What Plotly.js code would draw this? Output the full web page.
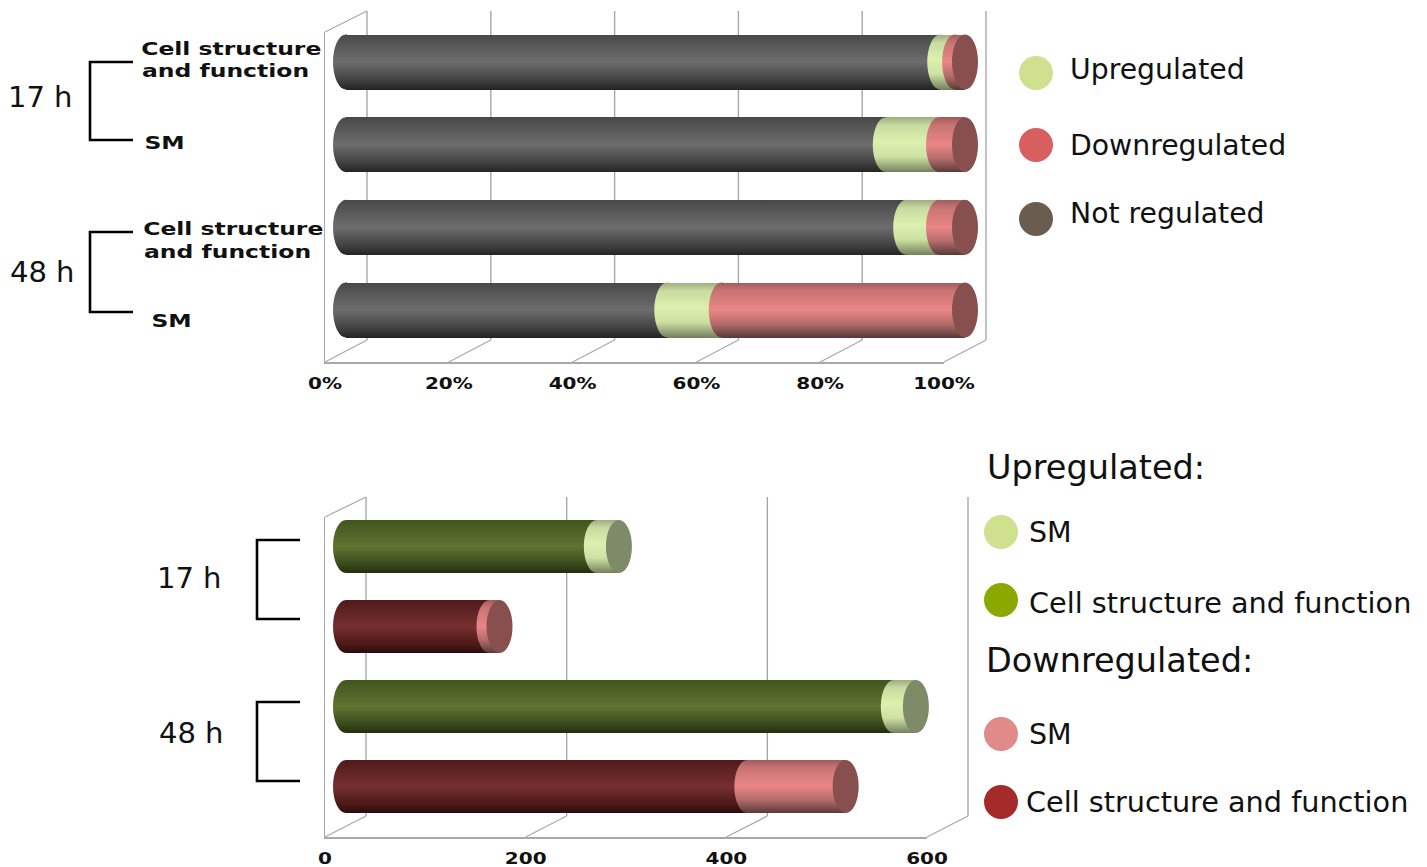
<!DOCTYPE html>
<html>
<head>
<meta charset="utf-8">
<title>Regulated proteins by functional class</title>
<script src="https://cdn.plot.ly/plotly-3.0.1.min.js"></script>
<style>html,body{margin:0;padding:0;background:#fff}</style>
</head>
<body>
<div id="chart" style="width:1427px;height:867px"></div>
<script>
// ---- Data ----
const rowNames = ["17 h Cell structure and function", "17 h SM", "48 h Cell structure and function", "48 h SM"];

// Share of proteins in each class (%)
const notRegulatedPct = [96.0, 87.2, 90.5, 51.9];
const upregulatedPct = [2.4, 8.6, 5.3, 8.8];
const downregulatedPct = [1.6, 4.2, 4.2, 39.3];
const pctTicks = [0, 20, 40, 60, 80, 100];
const pctTickLabels = ["0%", "20%", "40%", "60%", "80%", "100%"];

// Protein counts
const upCellCounts = [250, null, 546, null];
const upSmCounts = [22, null, 22, null];
const downCellCounts = [null, 143, null, 400];
const downSmCounts = [null, 10, null, 98];
const countTicks = [0, 200, 400, 600];
const countTickLabels = ["0", "200", "400", "600"];

// ---- Page geometry helpers ----
const W = 1427, H = 867;
const fx = p => p / W;
const fy = p => 1 - p / H;
const domX = (a, b) => [fx(a), fx(b)];
const domY = (top, bottom) => [fy(bottom), fy(top)];
const axisId = (a, i) => a + (i === 1 ? "" : i);
const axisKey = (a, i) => a + "axis" + (i === 1 ? "" : i);

// Cylinder shading: vertical colour ramps
const ramps = {
  grey: [[0, "#474747"], [.1, "#505050"], [.5, "#6d6d6d"], [.85, "#3e3e3e"], [1, "#242424"]],
  paleGreen: [[0, "#9dac80"], [.15, "#c8dba0"], [.45, "#dcf1ae"], [.72, "#cde1a2"], [1, "#75805e"]],
  salmon: [[0, "#a05c5c"], [.15, "#c97474"], [.5, "#ea8686"], [.75, "#b56c6c"], [1, "#5a3a3a"]],
  olive: [[0, "#41541f"], [.5, "#5f7431"], [.85, "#37481a"], [1, "#212f0e"]],
  maroon: [[0, "#4f1b1b"], [.5, "#762f2f"], [.85, "#4a1717"], [1, "#2b0c0c"]]
};
const midColour = k => ramps[k][Math.floor(ramps[k].length / 2)][1];

const traces = [];
const shapes = [];
const shapePaint = {};
const wallColour = "#a8a8a8";

// One stacked-cylinder chart: back wall grid, bars, front floor edge
function buildChart(cfg) {
  const pxPer = (cfg.backRight - cfg.backLeft) / cfg.max;
  const xr = axisId("x", cfg.barAxis), yr = axisId("y", cfg.barAxis);
  const capRadius = 13 / pxPer;
  const halfBar = cfg.barH / cfg.pitch / 2;
  // the walls sit half the chart depth behind and in front of the bars
  const backShift = (cfg.backLeft - cfg.barZero) / pxPer;
  const frontShift = (cfg.frontLeft - cfg.barZero) / pxPer;

  const wall = (x0, x1, y0, y1, width) => shapes.push({
    type: "line", xref: xr, yref: "paper", layer: "below",
    x0, x1, y0: fy(y0), y1: fy(y1),
    line: {color: wallColour, width}
  });

  cfg.ticks.forEach(t => {
    // back wall gridline
    wall(t + backShift, t + backShift, cfg.backTop, cfg.backBottom, 1.4);
    // floor diagonal joining the front edge to the back wall
    wall(t + frontShift, t + backShift, cfg.frontBottom, cfg.backBottom, 1.2);
  });
  // top diagonal of the side wall
  wall(frontShift, backShift, cfg.frontTop, cfg.backTop, 1.2);

  cfg.series.forEach(s => {
    traces.push({
      type: "bar", orientation: "h", name: s.name, meta: s.ramp,
      x: s.values, y: rowNames, xaxis: xr, yaxis: yr,
      width: cfg.barH / cfg.pitch,
      marker: {color: midColour(s.ramp), line: {width: 0}},
      hoverinfo: "x+name"
    });
  });

  // an unseen trace keeps the front-edge axes in the figure
  traces.push({
    type: "scatter", mode: "markers", x: cfg.ticks, y: cfg.ticks.map(() => 0),
    xaxis: axisId("x", cfg.barAxis + 1), yaxis: axisId("y", cfg.barAxis + 1),
    marker: {opacity: 0}, hoverinfo: "skip", showlegend: false
  });

  rowNames.forEach((_, i) => {
    let running = 0, last = null;
    cfg.series.forEach(s => {
      const v = s.values[i];
      if (v === null) return;
      shapePaint[shapes.length] = s.ramp;
      shapes.push({
        type: "circle", xref: xr, yref: yr, layer: "above",
        x0: running - capRadius, x1: running + capRadius,
        y0: i - halfBar, y1: i + halfBar,
        fillcolor: midColour(s.ramp), line: {width: 0}
      });
      running += v;
      last = s;
    });
    // flat end cap of the cylinder
    shapes.push({
      type: "circle", xref: xr, yref: yr, layer: "above",
      x0: running - capRadius, x1: running + capRadius,
      y0: i - halfBar, y1: i + halfBar,
      fillcolor: last.cap, line: {width: 0}
    });
  });
}

const upSeriesCap = "#7f8a68", downSeriesCap = "#874f4d";

const topChart = {
  barAxis: 1, max: 100, ticks: pctTicks,
  backLeft: 367, backRight: 986, frontLeft: 325, frontRight: 944, barZero: 346,
  backTop: 11, backBottom: 340, frontTop: 32, frontBottom: 362,
  firstRow: 62, pitch: 82.67, barH: 55,
  series: [
    {name: "Not regulated", values: notRegulatedPct, ramp: "grey", cap: downSeriesCap},
    {name: "Upregulated", values: upregulatedPct, ramp: "paleGreen", cap: downSeriesCap},
    {name: "Downregulated", values: downregulatedPct, ramp: "salmon", cap: downSeriesCap}
  ]
};
const bottomChart = {
  barAxis: 3, max: 600, ticks: countTicks,
  backLeft: 366, backRight: 968, frontLeft: 325, frontRight: 927, barZero: 346,
  backTop: 497, backBottom: 816, frontTop: 517, frontBottom: 837,
  firstRow: 546.5, pitch: 80, barH: 53,
  series: [
    {name: "Upregulated: Cell structure and function", values: upCellCounts, ramp: "olive", cap: upSeriesCap},
    {name: "Upregulated: SM", values: upSmCounts, ramp: "paleGreen", cap: upSeriesCap},
    {name: "Downregulated: Cell structure and function", values: downCellCounts, ramp: "maroon", cap: downSeriesCap},
    {name: "Downregulated: SM", values: downSmCounts, ramp: "salmon", cap: downSeriesCap}
  ]
};
buildChart(topChart);
buildChart(bottomChart);

function axesFor(c, ticks, labels) {
  const n = c.barAxis;
  const pxPer = (c.backRight - c.backLeft) / c.max;
  const hidden = {visible: true, showgrid: false, zeroline: false, showticklabels: false, ticks: "", showline: false, fixedrange: true};
  const out = {};
  // bars, on a wider span so the rounded ends and walls are not clipped
  const left = c.frontLeft - 20, right = c.backRight + 20;
  out[axisKey("x", n)] = {...hidden, domain: domX(left, right), anchor: axisId("y", n),
    range: [(left - c.barZero) / pxPer, (right - c.barZero) / pxPer]};
  const top = c.backTop - 10, bottom = c.frontBottom + 10;
  out[axisKey("y", n)] = {...hidden, type: "category", categoryorder: "array", categoryarray: rowNames,
    domain: domY(top, bottom), anchor: axisId("x", n),
    range: [(bottom - c.firstRow) / c.pitch, (top - c.firstRow) / c.pitch]};
  // front edge with the value labels and the side wall line
  out[axisKey("x", n + 1)] = {...hidden, domain: domX(c.frontLeft, c.frontRight), range: [0, c.max], anchor: axisId("y", n + 1),
    showline: true, linecolor: wallColour, linewidth: 1.5,
    tickmode: "array", tickvals: ticks, ticktext: labels, showticklabels: true, ticklabelstandoff: 7,
    tickfont: {family: "DejaVu Sans", size: 15.5, color: "#111", weight: 700}};
  out[axisKey("y", n + 1)] = {...hidden, domain: domY(c.frontTop, c.frontBottom), range: [0, 1], anchor: axisId("x", n + 1),
    showline: true, linecolor: wallColour, linewidth: 1.5};
  return out;
}

// ---- Text ----
const annotations = [];
function label(text, x, y, size, opts) {
  const o = opts || {};
  annotations.push({
    text, xref: "paper", yref: "paper", x: fx(x), y: fy(y), showarrow: false,
    xanchor: o.anchor || "left", yanchor: "middle", borderpad: 0, borderwidth: 0,
    font: {family: "DejaVu Sans", size, color: "#111", weight: o.bold ? 700 : 400}
  });
}
// row labels of the upper chart (widened afterwards)
label("Cell structure", 231.5, 49, 17, {bold: true, anchor: "center"});
label("and function", 225.5, 71, 17, {bold: true, anchor: "center"});
label("SM", 164.5, 143, 17, {bold: true, anchor: "center"});
label("Cell structure", 233.5, 229, 17, {bold: true, anchor: "center"});
label("and function", 227.5, 252, 17, {bold: true, anchor: "center"});
label("SM", 171.5, 321, 17, {bold: true, anchor: "center"});
// time points
label("17 h", 8, 97, 29);
label("48 h", 10, 272, 29);
label("17 h", 157, 578, 29);
label("48 h", 159, 733, 29);
// legends
label("Upregulated", 1070, 69, 28.3);
label("Downregulated", 1070, 145, 28.3);
label("Not regulated", 1070, 214, 28.3);
label("Upregulated:", 987, 467, 33.5);
label("SM", 1029, 532, 28.5);
label("Cell structure and function", 1029, 603, 28.7);
label("Downregulated:", 986, 660, 33.5);
label("SM", 1029, 734, 28.5);
label("Cell structure and function", 1026, 802, 28.7);

// ---- Legend swatches and time-point brackets ----
function swatch(cx, cy, colour) {
  const r = 17;
  shapes.push({type: "circle", xref: "paper", yref: "paper",
    x0: fx(cx - r), x1: fx(cx + r), y0: fy(cy + r), y1: fy(cy - r),
    fillcolor: colour, line: {width: 0}});
}
swatch(1036, 73, "#cfe08e");
swatch(1036, 145, "#d75f5f");
swatch(1036, 219, "#6a5d50");
swatch(1001, 532, "#cfe08e");
swatch(1001, 600, "#8aa800");
swatch(1001, 734, "#e08a8a");
swatch(1001, 802, "#a52a2a");

function bracket(xOuter, xInner, yTop, yBottom) {
  shapes.push({type: "path", xref: "paper", yref: "paper",
    path: `M${fx(xInner)},${fy(yTop)} L${fx(xOuter)},${fy(yTop)} L${fx(xOuter)},${fy(yBottom)} L${fx(xInner)},${fy(yBottom)}`,
    line: {color: "#000", width: 2.6}});
}
bracket(90, 133, 62, 140);
bracket(90, 133, 232, 312);
bracket(257, 300, 540, 619);
bracket(257, 300, 702, 781);

const layout = {
  width: W, height: H, autosize: false,
  margin: {l: 0, r: 0, t: 0, b: 0, pad: 0},
  paper_bgcolor: "#fff", plot_bgcolor: "rgba(0,0,0,0)",
  showlegend: false, barmode: "stack", bargap: 0,
  font: {family: "DejaVu Sans"},
  shapes, annotations,
  ...axesFor(topChart, pctTicks, pctTickLabels),
  ...axesFor(bottomChart, countTicks, countTickLabels)
};

const gd = document.getElementById("chart");
Plotly.newPlot(gd, traces, layout, {displayModeBar: false, staticPlot: true}).then(() => {
  const svg = gd.querySelector("svg.main-svg");
  const NS = "http://www.w3.org/2000/svg";
  const defs = document.createElementNS(NS, "defs");
  Object.keys(ramps).forEach(k => {
    const g = document.createElementNS(NS, "linearGradient");
    g.setAttribute("id", "ramp-" + k);
    g.setAttribute("x1", "0"); g.setAttribute("y1", "0");
    g.setAttribute("x2", "0"); g.setAttribute("y2", "1");
    ramps[k].forEach(([o, c]) => {
      const st = document.createElementNS(NS, "stop");
      st.setAttribute("offset", o);
      st.setAttribute("stop-color", c);
      g.appendChild(st);
    });
    defs.appendChild(g);
  });
  svg.insertBefore(defs, svg.firstChild);

  // shade the bar segments
  gd.querySelectorAll(".barlayer .trace").forEach(t => {
    const meta = t.__data__ && t.__data__[0] && t.__data__[0].trace.meta;
    if (!meta) return;
    t.querySelectorAll(".point path").forEach(p => { p.style.fill = `url(#ramp-${meta})`; });
  });
  // shade the rounded segment ends
  gd.querySelectorAll(".shapelayer path[data-index]").forEach(p => {
    const ramp = shapePaint[p.getAttribute("data-index")];
    if (ramp) p.style.fill = `url(#ramp-${ramp})`;
  });
  // widen the bold labels
  const widen = (el, f) => {
    el.setAttribute("textLength", el.getComputedTextLength() * f);
    el.setAttribute("lengthAdjust", "spacingAndGlyphs");
  };
  gd.querySelectorAll(".annotation-text").forEach(el => {
    const w = el.style.fontWeight;
    if (w === "bold" || Number(w) >= 700) widen(el, 1.38);
  });
  gd.querySelectorAll(".xaxislayer-above text").forEach(el => widen(el, 1.29));
});
</script>
</body>
</html>
